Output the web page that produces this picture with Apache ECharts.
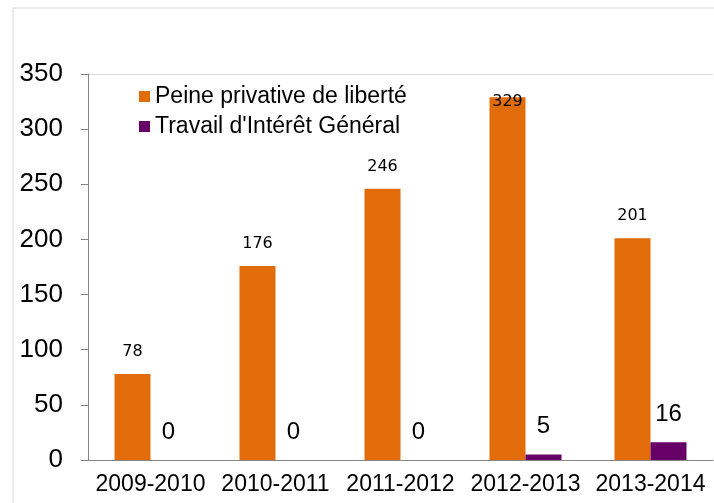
<!DOCTYPE html>
<html>
<head>
<meta charset="utf-8">
<script src="https://cdn.jsdelivr.net/npm/echarts@6/dist/echarts.min.js"></script>
<style>
html, body { margin: 0; padding: 0; background: #fff; }
#chartBox { width: 714px; height: 503px; }
</style>
</head>
<body>
<div id="chartBox"></div>
<script>
var categories = ['2009-2010', '2010-2011', '2011-2012', '2012-2013', '2013-2014'];
var peineValues = [78, 176, 246, 329, 201];
var tigValues = [0, 0, 0, 5, 16];
var seriesNames = ['Peine privative de liberté', "Travail d'Intérêt Général"];

function bindBar() {
    var chart = echarts.init(document.getElementById("chartBox"));
    var option = setOptionBar();
    chart.setOption(option);
}

function setOptionBar() {
    // the highest label sits on the bar top, like the original
    var peineData = peineValues.map(function (v) {
        if (v > 300) {
            return { value: v, label: { position: 'insideTop', distance: -3 } };
        }
        return v;
    });
    var option = {
        animation: false,
        textStyle: { fontFamily: 'Liberation Sans' },
        graphic: [
            {
                type: 'rect',
                shape: { x: 13, y: 8, width: 720, height: 520 },
                style: { fill: 'none', stroke: '#d9d9d9', lineWidth: 1 }
            }
        ],
        grid: { left: 88, top: 74, right: 1, bottom: 43 },
        legend: {
            orient: 'vertical',
            left: 134,
            top: 80,
            itemWidth: 11,
            itemHeight: 11,
            itemGap: 7,
            icon: 'rect',
            textStyle: { fontSize: 23, color: '#000', fontFamily: 'Liberation Sans' },
            data: seriesNames
        },
        xAxis: {
            type: 'category',
            data: categories,
            axisLine: { lineStyle: { color: '#868686' } },
            axisTick: { length: 6, lineStyle: { color: '#868686' } },
            axisLabel: { interval: 0, fontSize: 23, color: '#000', margin: 13 }
        },
        yAxis: {
            type: 'value',
            min: 0,
            max: 350,
            interval: 50,
            axisLine: { show: true, lineStyle: { color: '#868686' } },
            axisTick: { show: true, length: 7, lineStyle: { color: '#868686' } },
            axisLabel: { fontSize: 26, color: '#000', margin: 25 },
            splitLine: {
                show: true,
                lineStyle: {
                    color: ['transparent', 'transparent', 'transparent', 'transparent',
                        'transparent', 'transparent', 'transparent', '#d9d9d9']
                }
            }
        },
        series: [
            {
                name: seriesNames[0],
                type: 'bar',
                barWidth: 36,
                barGap: '0%',
                itemStyle: { color: '#e36c0a' },
                label: {
                    show: true,
                    position: 'top',
                    distance: 14,
                    fontSize: 16,
                    color: '#000',
                    fontFamily: 'DejaVu Sans'
                },
                data: peineData
            },
            {
                name: seriesNames[1],
                type: 'bar',
                barWidth: 36,
                itemStyle: { color: '#660066' },
                label: {
                    show: true,
                    position: 'top',
                    distance: 16,
                    fontSize: 24,
                    color: '#000',
                    fontFamily: 'Liberation Sans'
                },
                data: tigValues
            }
        ]
    };
    return option;
}

bindBar();
</script>
</body>
</html>
